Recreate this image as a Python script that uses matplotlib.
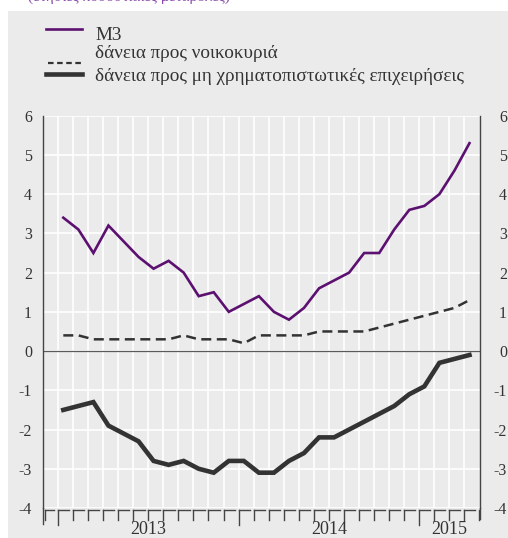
import matplotlib
matplotlib.use("Agg")
import matplotlib.pyplot as plt
import matplotlib.transforms as mtransforms
from matplotlib.patches import Rectangle
from matplotlib.lines import Line2D
import numpy as np

# ---- data (monthly, Jan 2013 - Apr 2015) ----
m3 = [3.4, 3.1, 2.5, 3.2, 2.8, 2.4, 2.1, 2.3, 2.0, 1.4, 1.5, 1.0,
      1.2, 1.4, 1.0, 0.8, 1.1, 1.6, 1.8, 2.0, 2.5, 2.5, 3.1, 3.6,
      3.7, 4.0, 4.6, 5.3]
households = [0.4, 0.4, 0.3, 0.3, 0.3, 0.3, 0.3, 0.3, 0.4, 0.3, 0.3, 0.3,
              0.2, 0.4, 0.4, 0.4, 0.4, 0.5, 0.5, 0.5, 0.5, 0.6, 0.7, 0.8,
              0.9, 1.0, 1.1, 1.3]
nfc = [-1.5, -1.4, -1.3, -1.9, -2.1, -2.3, -2.8, -2.9, -2.8, -3.0, -3.1, -2.8,
       -2.8, -3.1, -3.1, -2.8, -2.6, -2.2, -2.2, -2.0, -1.8, -1.6, -1.4, -1.1,
       -0.9, -0.3, -0.2, -0.1]
years = ["2013", "2014", "2015"]
year_months = [12, 12, 4]
yticks = [-4, -3, -2, -1, 0, 1, 2, 3, 4, 5, 6]
labels = ["M3", "δάνεια προς νοικοκυριά",
          "δάνεια προς μη χρηματοπιστωτικές επιχειρήσεις"]
subtitle = "(ετήσιες ποσοστιαίες μεταβολές)"

BG = "#ebebeb"
PURPLE = "#5c1070"
DARK = "#333333"
TXT = "#333333"

plt.rcParams['font.family'] = ['Liberation Serif', 'DejaVu Serif']

W, H = 508, 538
fig = plt.figure(figsize=(W / 100, H / 100), dpi=100)
fig.patch.set_facecolor("white")
fig.patches.append(Rectangle((8 / W, 0), 1 - 8 / W, 1 - 11 / H,
                             transform=fig.transFigure, facecolor=BG,
                             edgecolor="none", zorder=-10))
fig.text(28 / W, 1 - 4 / H, subtitle, color="#8a4aa8", fontsize=11,
         va="bottom", ha="left")

left_px, right_px, top_px, bot_px = 43, 480, 115.7, 508
ax = fig.add_axes([left_px / W, 1 - bot_px / H,
                   (right_px - left_px) / W, (bot_px - top_px) / H])
ax.set_facecolor(BG)

n_months = sum(year_months)
first_month = 1
xs = np.arange(n_months) + first_month + 0.35
xmax = first_month + n_months + 0.05
ax.set_xlim(0, xmax)
ax.set_ylim(-4, 6)

# grid
for b in range(1, first_month + n_months):
    ax.axvline(b, color="white", lw=1.2, zorder=1)
for yv in yticks:
    ax.axhline(yv, color="white", lw=1.2, zorder=1)
ax.axhline(0, color="#5a5a5a", lw=0.9, zorder=2)

ax.plot(xs, m3, color=PURPLE, lw=1.9, zorder=4, solid_joinstyle="miter")
ax.plot(xs, households, color=DARK, lw=1.8, dashes=(4, 2.2), zorder=4)
ax.plot(xs, nfc, color=DARK, lw=3.3, zorder=4, solid_joinstyle="miter")

# spines
for s in ["top", "bottom"]:
    ax.spines[s].set_visible(False)
for s in ["left", "right"]:
    ax.spines[s].set_color("#444444")
    ax.spines[s].set_linewidth(1.0)

ax.set_yticks(yticks)
ax.set_yticklabels([str(v) for v in yticks])
ax.tick_params(axis="y", length=0, labelsize=11.5, colors=TXT,
               labelleft=True, labelright=False, pad=8)

ax2 = ax.twinx()
ax2.set_ylim(ax.get_ylim())
ax2.set_yticks(yticks)
ax2.set_yticklabels([str(v) for v in yticks])
ax2.tick_params(axis="y", length=0, labelsize=11.5, colors=TXT, pad=19.5)
for lab in ax2.get_yticklabels():
    lab.set_horizontalalignment("right")
for s in ["top", "bottom", "left", "right"]:
    ax2.spines[s].set_visible(False)
ax2.set_xticks([])

# x ticks: month boundaries, long at year starts
ax.set_xticks([])
trans = mtransforms.blended_transform_factory(ax.transData, ax.transAxes)
px_to_ax = 1.0 / (bot_px - top_px)
year_starts = set(np.cumsum([first_month] + year_months[:-1]).tolist())
bounds = list(range(1, first_month + n_months + 1))
for b in bounds:
    if b > xmax:
        continue
    long_tick = b in year_starts
    bottom = -(17 if long_tick else 12) * px_to_ax
    ax.add_line(Line2D([b, b], [-2 * px_to_ax, bottom], transform=trans,
                       color="#444444", lw=1.0, clip_on=False))
    xend = min(b + 0.75, xmax - 0.05)
    ax.add_line(Line2D([b, xend], [-2 * px_to_ax, -2 * px_to_ax],
                       transform=trans, color="#444444", lw=1.0,
                       clip_on=False))
# left/right axis extended down
ax.add_line(Line2D([0, 0], [0, -16 * px_to_ax], transform=trans,
                   color="#444444", lw=1.0, clip_on=False))
ax.add_line(Line2D([0.1, 0.1], [-2 * px_to_ax, -12 * px_to_ax],
                   transform=trans, color="#444444", lw=1.0, clip_on=False))
ax.add_line(Line2D([0.1, 0.75], [-2 * px_to_ax, -2 * px_to_ax],
                   transform=trans, color="#444444", lw=1.0, clip_on=False))
ax.add_line(Line2D([xmax, xmax], [0, -11 * px_to_ax], transform=trans,
                   color="#444444", lw=1.0, clip_on=False))

# year labels
start = first_month
for y, nm in zip(years, year_months):
    ax.text(start + nm / 2, -22 * px_to_ax, y, transform=trans,
            ha="center", va="center", fontsize=13, color=TXT)
    start += nm

# legend (manual)
def fx(p):
    return p / W

def fy(p):
    return 1 - p / H

fig.add_artist(Line2D([fx(46), fx(82)], [fy(29), fy(29)], color=PURPLE,
                      lw=1.9, transform=fig.transFigure))
fig.add_artist(Line2D([fx(48), fx(82)], [fy(62.5), fy(62.5)], color=DARK,
                      lw=1.6, dashes=(2.5, 1.6), transform=fig.transFigure))
fig.add_artist(Line2D([fx(46), fx(82)], [fy(74), fy(74)], color=DARK,
                      lw=3.3, transform=fig.transFigure))
for lab, yc in zip(labels, [35, 53, 76.5]):
    fig.text(fx(95), fy(yc), lab, fontsize=13.8, color=TXT,
             ha="left", va="center")

fig.savefig("out.png", dpi=100, facecolor=fig.get_facecolor())
